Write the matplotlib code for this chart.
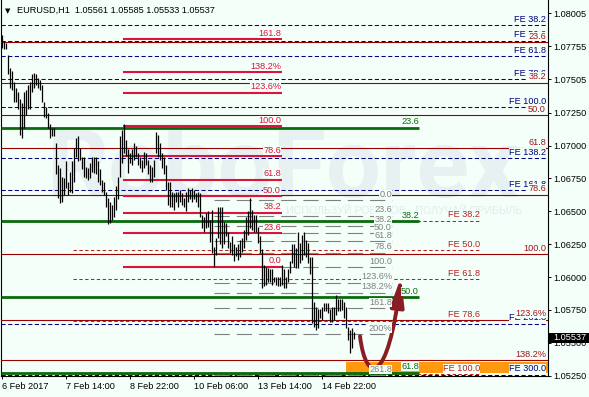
import matplotlib
matplotlib.use("Agg")
import matplotlib.pyplot as plt
import matplotlib.transforms as mtransforms
from matplotlib.patches import Rectangle, FancyArrowPatch
from matplotlib.path import Path

# =========================
# 1. Data (EURUSD H1)
# =========================
highs = [
    1.0784, 1.0779, 1.0778, 1.0769, 1.0759, 1.0757, 1.0748, 1.0744, 1.0741, 1.0735,
    1.0732, 1.0741, 1.0742, 1.0746, 1.0748, 1.0754, 1.0755, 1.0754, 1.0751, 1.0750,
    1.0746, 1.0733, 1.0729, 1.0725, 1.0716, 1.0713, 1.0713, 1.0702, 1.0685, 1.0683,
    1.0676, 1.0675, 1.0688, 1.0672, 1.0680, 1.0688, 1.0698, 1.0706, 1.0707, 1.0698,
    1.0691, 1.0691, 1.0684, 1.0683, 1.0687, 1.0691, 1.0691, 1.0691, 1.0688, 1.0682,
    1.0674, 1.0672, 1.0665, 1.0660, 1.0657, 1.0655, 1.0661, 1.0669, 1.0676, 1.0707,
    1.0712, 1.0716, 1.0704, 1.0697, 1.0694, 1.0697, 1.0702, 1.0700, 1.0694, 1.0691,
    1.0689, 1.0695, 1.0694, 1.0689, 1.0685, 1.0684, 1.0689, 1.0710, 1.0708, 1.0702,
    1.0694, 1.0691, 1.0685, 1.0672, 1.0672, 1.0665, 1.0664, 1.0665, 1.0665, 1.0666,
    1.0664, 1.0660, 1.0665, 1.0668, 1.0666, 1.0668, 1.0666, 1.0664, 1.0665, 1.0664,
    1.0647, 1.0646, 1.0649, 1.0650, 1.0643, 1.0651, 1.0623, 1.0630, 1.0653, 1.0653,
    1.0653, 1.0642, 1.0641, 1.0634, 1.0627, 1.0631, 1.0625, 1.0623, 1.0625, 1.0628,
    1.0630, 1.0636, 1.0646, 1.0650, 1.0660, 1.0651, 1.0647, 1.0647, 1.0638, 1.0631,
    1.0621, 1.0609, 1.0608, 1.0607, 1.0606, 1.0606, 1.0600, 1.0600, 1.0600, 1.0600,
    1.0609, 1.0606, 1.0600, 1.0606, 1.0612, 1.0625, 1.0625, 1.0622, 1.0634, 1.0626,
    1.0632, 1.0634, 1.0628, 1.0626, 1.0615, 1.0615, 1.0581, 1.0577, 1.0576, 1.0576,
    1.0577, 1.0580, 1.0580, 1.0580, 1.0576, 1.0577, 1.0577, 1.0586, 1.0583, 1.0583,
    1.0583, 1.0581, 1.0577, 1.0562, 1.0560, 1.0561, 1.05585,
]
lows = [
    1.0774, 1.0773, 1.0773, 1.0754, 1.0744, 1.0742, 1.0733, 1.0733, 1.0728, 1.0708,
    1.0706, 1.0713, 1.0723, 1.0728, 1.0728, 1.0741, 1.0744, 1.0746, 1.0744, 1.0742,
    1.0733, 1.0722, 1.0721, 1.0713, 1.0706, 1.0707, 1.0707, 1.0678, 1.0660, 1.0656,
    1.0657, 1.0662, 1.0668, 1.0662, 1.0665, 1.0664, 1.0672, 1.0691, 1.0688, 1.0689,
    1.0682, 1.0676, 1.0675, 1.0674, 1.0675, 1.0680, 1.0679, 1.0678, 1.0672, 1.0670,
    1.0665, 1.0662, 1.0653, 1.0640, 1.0641, 1.0643, 1.0646, 1.0651, 1.0659, 1.0676,
    1.0687, 1.0694, 1.0692, 1.0679, 1.0687, 1.0685, 1.0689, 1.0691, 1.0685, 1.0683,
    1.0680, 1.0683, 1.0685, 1.0678, 1.0672, 1.0672, 1.0676, 1.0694, 1.0691, 1.0689,
    1.0683, 1.0678, 1.0666, 1.0655, 1.0653, 1.0653, 1.0651, 1.0657, 1.0653, 1.0657,
    1.0655, 1.0653, 1.0650, 1.0657, 1.0659, 1.0657, 1.0659, 1.0657, 1.0653, 1.0646,
    1.0637, 1.0634, 1.0637, 1.0638, 1.0627, 1.0618, 1.0608, 1.0617, 1.0630, 1.0625,
    1.0622, 1.0625, 1.0631, 1.0622, 1.0618, 1.0617, 1.0612, 1.0616, 1.0613, 1.0615,
    1.0619, 1.0622, 1.0628, 1.0632, 1.0637, 1.0636, 1.0634, 1.0634, 1.0626, 1.0618,
    1.0592, 1.0593, 1.0594, 1.0596, 1.0596, 1.0594, 1.0596, 1.0594, 1.0593, 1.0593,
    1.0594, 1.0592, 1.0592, 1.0596, 1.0603, 1.0611, 1.0608, 1.0607, 1.0607, 1.0611,
    1.0613, 1.0617, 1.0615, 1.0611, 1.0602, 1.0565, 1.0562, 1.0560, 1.0561, 1.0569,
    1.0567, 1.0574, 1.0574, 1.0573, 1.0566, 1.0566, 1.0567, 1.0571, 1.0574, 1.0574,
    1.0575, 1.0569, 1.0561, 1.0552, 1.0542, 1.0546, 1.05533,
]
last_price = 1.05537
title_text = "EURUSD,H1  1.05561 1.05585 1.05533 1.05537"

x_tick_bars = [0, 32, 64, 96, 128, 160]
x_tick_labels = ["6 Feb 2017", "7 Feb 14:00", "8 Feb 22:00", "10 Feb 06:00",
                 "13 Feb 14:00", "14 Feb 22:00"]
y_ticks = [1.08005, 1.07755, 1.07505, 1.07250, 1.07000, 1.06750,
           1.06500, 1.06250, 1.06000, 1.05750, 1.05500, 1.05250]

# Fibonacci objects: anchor prices (0 % and 100 %) and shown levels
maroon_0, maroon_100 = 1.08285, 1.06173
maroon_levels = [23.6, 38.2, 50.0, 61.8, 78.6, 100.0, 123.6, 138.2]
maroon_text = ["23.6", "38.2", "50.0", "61.8", "78.6", "100.0", "123.6%", "138.2%"]

navy_0, navy_100 = 1.08304, 1.07289
navy_levels = [38.2, 50.0, 61.8, 78.6, 100.0, 138.2, 161.8, 261.8, 300.0]
navy_text = ["FE 38.2", "FE 50.0", "FE 61.8", "FE 78.6", "FE 100.0",
             "FE 138.2", "FE 161.8", "FE 261.8", "FE 300.0"]

fe_red_0, fe_red_100 = 1.07149, 1.05264
fe_red_levels = [38.2, 50.0, 61.8, 78.6, 100.0]
fe_red_text = ["FE 38.2", "FE 50.0", "FE 61.8", "FE 78.6", "FE 100.0"]
fe_red_span = (35.5, 239)

crimson_0, crimson_100 = 1.06080, 1.07148
crimson_levels = [0.0, 23.6, 38.2, 50.0, 61.8, 78.6, 100.0, 123.6, 138.2, 161.8]
crimson_text = ["0.0", "23.6", "38.2", "50.0", "61.8", "78.6", "100.0",
                "123.6%", "138.2%", "161.8"]
crimson_span = (60.5, 140)

gray_0, gray_100 = 1.06586, 1.06077
gray_levels = [0.0, 23.6, 38.2, 50.0, 61.8, 78.6, 100.0, 123.6, 138.2, 161.8, 200.0, 261.8]
gray_text = ["0.0", "23.6", "38.2", "50.0", "61.8", "78.6", "100.0",
             "123.6%", "138.2%", "161.8", "200%", "261.8"]
gray_span = (106, 195)

green_0, green_100 = 1.08285, 1.03411
green_levels = [23.6, 38.2, 50.0, 61.8]
green_text = ["23.6", "38.2", "50.0", "61.8"]
green_span = (-0.5, 208.5)

orange_zone = (172, 1.05269, 1.05357)

arrow_pts = [(179, 1.0555), (182, 1.0518), (193, 1.0518), (199.5, 1.0600)]

# =========================
# 2. Style
# =========================
BG = "#F4FFF9"
MAROON = "#990000"
MAROON_TXT = "#A0141E"
NAVY = "#000080"
FE_RED = "#B22222"
CRIMSON = "#DC143C"
GRAY = "#808080"
GREEN = "#0A6A0A"
ORANGE = "#FF9A10"
ARROW = "#8A1C24"
WM = "#E8F1F1"
FS = 6.6

plt.rcParams["font.family"] = ["Liberation Sans", "DejaVu Sans"]
plt.rcParams["lines.scale_dashes"] = False

W, H = 589, 397
fig = plt.figure(figsize=(W / 100, H / 100), dpi=100, facecolor=BG)
ax = fig.add_axes([1 / W, 21 / H, 547 / W, 376 / H])
ax.set_facecolor(BG)
ax.set_xlim(-0.5, 273)
ax.set_ylim(1.05248, 1.08106)

LAST_X = 272  # right edge for full-width labels


def level(p0, p100, r):
    return p0 + r / 100.0 * (p100 - p0)


def label(x, y, text, color, z=8):
    ax.annotate(text, (x, y), xytext=(0, 1.0), textcoords="offset points",
                ha="right", va="bottom", fontsize=FS, color=color, zorder=z,
                bbox=dict(boxstyle="square,pad=0", fc=BG, ec="none"),
                annotation_clip=False)


# =========================
# 3. Watermark
# =========================
ax.text(47 / W, 1 - 197 / H, "RoboForex", transform=fig.transFigure,
        fontsize=70, fontweight="bold", family="Roboto", color=WM,
        ha="left", va="baseline", zorder=0.5)
ax.text(522 / W, 1 - 214 / H, "ИСПОЛЬЗУЙ РОБОТОВ - ПОЛУЧАЙ ПРИБЫЛЬ",
        transform=fig.transFigure, fontsize=7.7, color="#E2EBEC",
        ha="right", va="baseline", zorder=0.5)

# =========================
# 4. Levels
# =========================
ax.add_patch(Rectangle((orange_zone[0], orange_zone[1]), 273 - orange_zone[0],
                       orange_zone[2] - orange_zone[1], fc=ORANGE, ec="none", zorder=1))

for r, t in zip(navy_levels, navy_text):
    p = level(navy_0, navy_100, r)
    ax.axhline(p, color=NAVY, lw=0.75, ls=(0, (3, 1.8)), zorder=3)
    label(LAST_X, p, t, NAVY, z=8)

for r, t in zip(maroon_levels, maroon_text):
    p = level(maroon_0, maroon_100, r)
    ax.axhline(p, color=MAROON, lw=0.8, zorder=3)
    label(LAST_X, p, t, MAROON_TXT, z=8.5)

for r, t in zip(fe_red_levels, fe_red_text):
    p = level(fe_red_0, fe_red_100, r)
    ax.hlines(p, *fe_red_span, color=FE_RED, lw=0.75, linestyles=(0, (2.4, 1.8)), zorder=3)
    label(fe_red_span[1], p, t, FE_RED)

for r, t in zip(gray_levels, gray_text):
    p = level(gray_0, gray_100, r)
    ax.hlines(p, *gray_span, color=GRAY, lw=0.8, linestyles=(0, (11, 5)), zorder=3)
    label(gray_span[1], p, t, GRAY)

for r, t in zip(green_levels, green_text):
    p = level(green_0, green_100, r)
    ax.hlines(p, *green_span, color=GREEN, lw=2.0, zorder=3.5)
    label(green_span[1], p, t, GREEN)

for r, t in zip(crimson_levels, crimson_text):
    p = level(crimson_0, crimson_100, r)
    ax.hlines(p, *crimson_span, color=CRIMSON, lw=1.5, zorder=4)
    label(crimson_span[1] - 0.5, p, t, CRIMSON)

# =========================
# 5. Price bars
# =========================
bars = list(range(len(highs)))
ax.vlines(bars, lows, highs, color="black", lw=0.9, zorder=6)

# =========================
# 6. Arrow
# =========================
arrow_path = Path(arrow_pts, [Path.MOVETO, Path.CURVE4, Path.CURVE4, Path.CURVE4])
ax.add_patch(FancyArrowPatch(path=arrow_path,
                             arrowstyle="-|>,head_length=0.85,head_width=0.2",
                             mutation_scale=20, lw=2.8, color=ARROW, zorder=7))

# =========================
# 7. Axes
# =========================
ax.spines["top"].set_visible(False)
for s in ["left", "right", "bottom"]:
    ax.spines[s].set_color("black")
    ax.spines[s].set_linewidth(0.8)

ax.set_xticks(x_tick_bars)
ax.set_xticklabels(x_tick_labels, ha="left")
ax.tick_params(axis="x", direction="out", length=2.5, width=0.7, pad=1.8,
               labelsize=FS, colors="black")

ax.yaxis.tick_right()
ax.set_yticks(y_ticks)
ax.set_yticklabels([f"{v:.5f}" for v in y_ticks])
ax.tick_params(axis="y", direction="out", length=2.5, width=0.7, pad=1.2,
               labelsize=FS, colors="black")

# current price box
trans = mtransforms.blended_transform_factory(ax.transAxes, ax.transData)
ax.add_patch(Rectangle((1.0, last_price - 0.00038), 0.08, 0.00076, transform=trans,
                       fc="black", ec="none", clip_on=False, zorder=10))
ax.text(1.0 + 5 / 547, last_price, f"{last_price:.5f}", transform=trans, color="white",
        fontsize=FS, ha="left", va="center", zorder=11)

# title
fig.text(5 / W, 1 - 11 / H, "▼", fontsize=5, family="DejaVu Sans", va="center", ha="left")
fig.text(17 / W, 1 - 10.7 / H, title_text, fontsize=FS, va="center", ha="left")

fig.savefig("out.png", dpi=100, facecolor=BG)
